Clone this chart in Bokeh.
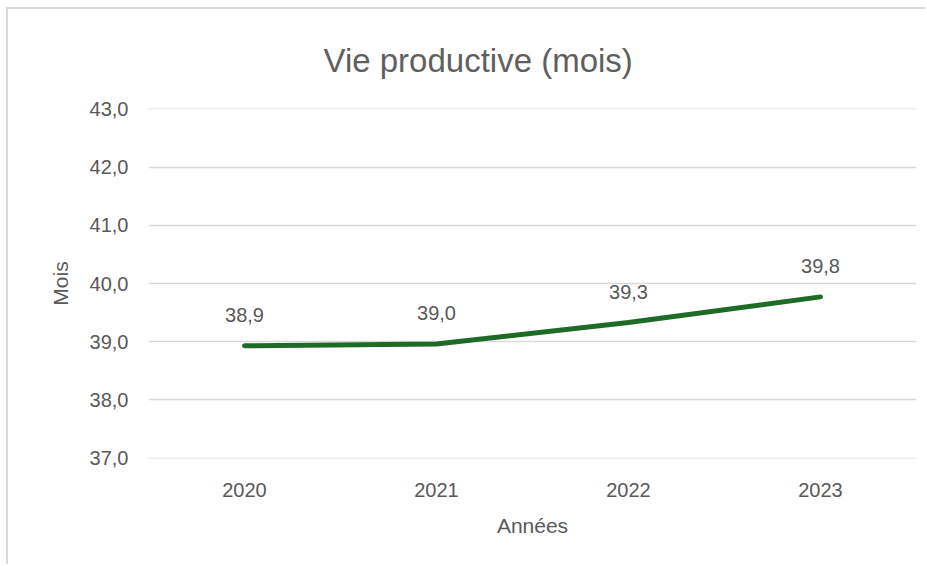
from bokeh.plotting import figure
from bokeh.models import ColumnDataSource, FactorRange, Range1d, LabelSet
from bokeh.core.properties import value
from bokeh.embed import file_html
from bokeh.resources import INLINE

# ---- data ----
years = ["2020", "2021", "2022", "2023"]
values = [38.93, 38.96, 39.33, 39.77]
value_labels = ["38,9", "39,0", "39,3", "39,8"]
y_ticks = [37, 38, 39, 40, 41, 42, 43]
y_tick_labels = ["37,0", "38,0", "39,0", "40,0", "41,0", "42,0", "43,0"]

FONT = "Liberation Sans"
TXT = "#595959"

src = ColumnDataSource(dict(year=years, value=values, label=value_labels))

p = figure(
    width=919, height=557,
    x_range=FactorRange(factors=years),
    y_range=Range1d(36.995, 43.005),
    output_backend="svg", toolbar_location=None,
    min_border_left=140, min_border_right=11,
    min_border_top=96, min_border_bottom=108,
)
p.styles = {"margin-top": "7px", "margin-left": "6px",
            "border-top": "2px solid #d9d9d9", "border-left": "2px solid #d9d9d9"}
p.outline_line_color = None
p.background_fill_color = "white"
p.border_fill_color = "white"

p.title.text = "Vie productive (mois)"
p.title.align = "left"
p.title.offset = 175
p.title.text_font = FONT
p.title.text_font_size = "33px"
p.title.text_font_style = "normal"
p.title.text_color = "#5f5f5f"
p.title.standoff = 60

p.line(x="year", y="value", source=src, line_color="#1e6b26",
       line_width=5, line_cap="round", line_join="round")

labels = LabelSet(x="year", y="value", text="label", source=src,
                  text_align="center", text_baseline="middle", y_offset=31,
                  text_font=value(FONT), text_font_size="20px", text_color=TXT)
p.add_layout(labels)

p.xgrid.grid_line_color = None
p.ygrid.grid_line_color = "#d9d9d9"
p.ygrid.grid_line_width = 1.5

p.yaxis.ticker = y_ticks
p.yaxis.major_label_overrides = {t: l for t, l in zip(y_ticks, y_tick_labels)}

for ax in (p.xaxis[0], p.yaxis[0]):
    ax.axis_line_color = None
    ax.major_tick_line_color = None
    ax.minor_tick_line_color = None
    ax.major_tick_in = 0
    ax.major_tick_out = 0
    ax.minor_tick_out = 0
    ax.major_label_text_font = FONT
    ax.major_label_text_font_size = "20px"
    ax.major_label_text_color = TXT
    ax.axis_label_text_font = FONT
    ax.axis_label_text_font_size = "21px"
    ax.axis_label_text_font_style = "normal"
    ax.axis_label_text_color = TXT

p.xaxis.axis_label = "Années"
p.yaxis.axis_label = "Mois"
p.yaxis.major_label_standoff = 20
p.yaxis.axis_label_standoff = 15
p.xaxis.major_label_standoff = 24
p.xaxis.axis_label_standoff = 14

open("out.html", "w").write(file_html(p, INLINE))
